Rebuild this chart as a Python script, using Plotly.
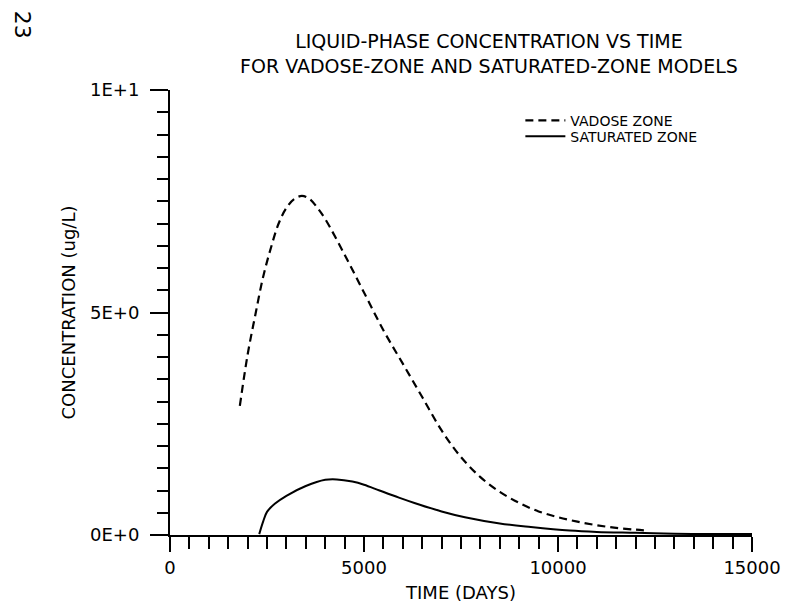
import plotly.graph_objects as go

# ---- data ----
vadose_days = [1800, 2000, 2200, 2400, 2600, 2800, 3000, 3200, 3400, 3600, 3800, 4000,
               4500, 5000, 5500, 6000, 6500, 7000, 7500, 8000, 8500, 9000, 9500,
               10000, 10500, 11000, 11500, 12000, 12300]
vadose_conc = [2.9, 4.05, 4.95, 5.8, 6.45, 7.0, 7.35, 7.55, 7.62, 7.55, 7.35, 7.1,
               6.3, 5.45, 4.6, 3.85, 3.1, 2.35, 1.75, 1.3, 0.97, 0.72, 0.53,
               0.4, 0.3, 0.22, 0.16, 0.12, 0.1]

sat_days = [2300, 2400, 2500, 2700, 3000, 3500, 4000, 4300, 4700, 5000, 5400, 5900,
            6300, 7000, 7600, 8500, 9300, 10300, 11000, 12000, 13000, 14000, 15000]
sat_conc = [0.02, 0.3, 0.52, 0.7, 0.88, 1.1, 1.24, 1.25, 1.2, 1.13, 1.0, 0.84,
            0.72, 0.53, 0.4, 0.26, 0.18, 0.1, 0.07, 0.05, 0.03, 0.02, 0.02]

x_ticks = [0, 5000, 10000, 15000]
x_tick_labels = ["0", "5000", "10000", "15000"]
y_ticks = [0, 5, 10]
y_tick_labels = ["0E+0", "5E+0", "1E+1"]

title_lines = ["LIQUID-PHASE CONCENTRATION VS TIME",
               "FOR VADOSE-ZONE AND SATURATED-ZONE MODELS"]
x_title = "TIME (DAYS)"
y_title = "CONCENTRATION (ug/L)"
page_number = "23"

FONT = "DejaVu Sans"

fig = go.Figure()
fig.add_trace(go.Scatter(x=vadose_days, y=vadose_conc, mode="lines",
                         name="VADOSE ZONE", legend="legend",
                         line=dict(color="black", width=2.2, dash="8px,5px"),
                         line_shape="spline"))
fig.add_trace(go.Scatter(x=sat_days, y=sat_conc, mode="lines",
                         name="SATURATED ZONE", legend="legend2",
                         line=dict(color="black", width=2),
                         line_shape="spline"))

leg_common = dict(xanchor="left", yanchor="middle", font=dict(size=14, family=FONT),
                  bgcolor="rgba(0,0,0,0)", itemwidth=40, borderwidth=0)

fig.update_layout(
    width=793, height=612,
    margin=dict(l=170, r=38, t=90, b=72),
    paper_bgcolor="white", plot_bgcolor="white",
    font=dict(family=FONT, color="black", size=16),
    showlegend=True,
    legend=dict(x=0.602, y=0.931, **leg_common),
    legend2=dict(x=0.602, y=0.895, **leg_common),
)

fig.update_xaxes(range=[0, 15000], tickvals=x_ticks, ticktext=x_tick_labels,
                 showgrid=False, zeroline=False, showline=True, linecolor="black", linewidth=2,
                 ticks="outside", ticklen=15, tickwidth=2, tickcolor="black",
                 minor=dict(dtick=500, ticks="outside", ticklen=12, tickwidth=2, tickcolor="black"),
                 tickfont=dict(size=18),
                 title=dict(text=x_title, font=dict(size=18), standoff=10))
fig.update_yaxes(range=[0, 10], tickvals=y_ticks, ticktext=y_tick_labels,
                 showgrid=False, zeroline=False, showline=True, linecolor="black", linewidth=2,
                 ticks="outside", ticklen=18, tickwidth=2, tickcolor="black",
                 minor=dict(dtick=0.5, ticks="outside", ticklen=11, tickwidth=2, tickcolor="black"),
                 tickfont=dict(size=18), ticklabelstandoff=7,
                 title=dict(text=y_title, font=dict(size=18), standoff=10))

# two-line title
fig.add_annotation(text="<br>".join(title_lines), xref="paper", yref="paper", x=0.548, y=1.083,
                   showarrow=False, xanchor="center", yanchor="middle", align="center",
                   font=dict(size=19, family=FONT))

fig.add_annotation(text=page_number, xref="paper", yref="paper", x=-0.253, y=1.147,
                   showarrow=False, textangle=90, font=dict(size=22, family=FONT),
                   xanchor="center", yanchor="middle")

fig.write_html("out.html")
